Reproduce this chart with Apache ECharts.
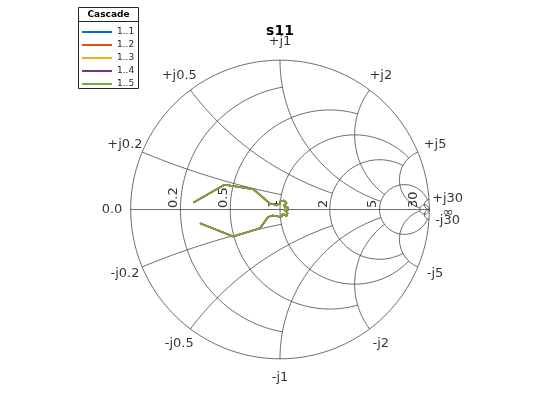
<!DOCTYPE html>
<html><head><meta charset="utf-8">
<script src="https://cdn.jsdelivr.net/npm/echarts@6/dist/echarts.min.js"></script>
<style>html,body{margin:0;padding:0;background:#fff}#c{width:560px;height:420px}</style>
</head><body><div id="c"></div>
<script>
// ---- data ----
const titleText = 's11';
const legendTitle = 'Cascade';
const seriesNames = ['1..1', '1..2', '1..3', '1..4', '1..5'];
const seriesColors = ['#0072BD', '#D95319', '#EDB120', '#7E2F8E', '#77AC30'];
// reflection coefficient S11 (real / imaginary); the five cascades coincide
const s11Re = [-0.581, -0.372, -0.179, -0.067, -0.027, 0.000, 0.000, 0.027, 0.044, 0.023, 0.050, 0.054, 0.027, 0.050, 0.044, 0.020, 0.007, 0.000, -0.047, -0.080, -0.134, -0.313, -0.536];
const s11Im = [0.046, 0.166, 0.137, 0.040, 0.030, 0.037, 0.054, 0.060, 0.044, 0.023, 0.017, -0.003, 0.000, -0.023, -0.044, -0.030, -0.050, -0.037, -0.040, -0.050, -0.126, -0.181, -0.092];
// Smith grid: circle values and where each one stops
const resistanceGrid = [30, 5, 2, 1, 0.5, 0.2];
const resistanceGridEnd = [Infinity, 30, 5, 5, 2, 1];
const reactanceGrid = [30, 5, 2, 1, 0.5, 0.2];
const reactanceGridEnd = [Infinity, 30, 5, 5, 2, 1];
const resistanceLabels = ['30', '5', '2', '1', '0.5', '0.2'];
const reactanceLabels = ['30', '5', '2', '1', '0.5', '0.2'];
const leftLabel = '0.0';
const rightLabel = '\u221E';

// ---- helpers ----
const FONT = 'DejaVu Sans';
const GRID_COLOR = '#454545';
const LABEL_R = 1.125;
function gamma(r, x) {
  if (!isFinite(r) || !isFinite(x)) return [1, 0];
  const d = (r + 1) * (r + 1) + x * x;
  return [(r * r - 1 + x * x) / d, 2 * x / d];
}
function arc(cx, cy, rad, a0, a1, n) {
  const pts = [];
  for (let i = 0; i <= n; i++) {
    const a = a0 + (a1 - a0) * i / n;
    pts.push([cx + rad * Math.cos(a), cy + rad * Math.sin(a)]);
  }
  return pts;
}
function mirror(pts) { return pts.map(p => [p[0], -p[1]]); }

const gridLines = [];
gridLines.push(arc(0, 0, 1, 0, 2 * Math.PI, 360));
gridLines.push([[-1, 0], [1, 0]]);
resistanceGrid.forEach((r, i) => {
  const c = r / (1 + r), rad = 1 / (1 + r);
  const e = gamma(r, resistanceGridEnd[i]);
  const a1 = isFinite(resistanceGridEnd[i]) ? Math.atan2(e[1], e[0] - c) : 0;
  const up = arc(c, 0, rad, Math.PI, a1, 180);
  gridLines.push(up, mirror(up));
});
reactanceGrid.forEach((x, i) => {
  const cy = 1 / x, rad = 1 / x;
  const s = gamma(0, x);
  let a0 = Math.atan2(s[1] - cy, s[0] - 1);
  if (a0 > 0) a0 -= 2 * Math.PI;
  let a1 = -Math.PI / 2;
  if (isFinite(reactanceGridEnd[i])) {
    const e = gamma(reactanceGridEnd[i], x);
    a1 = Math.atan2(e[1] - cy, e[0] - 1);
  }
  const up = arc(1, cy, rad, a0, a1, 180);
  gridLines.push(up, mirror(up));
});

const series = [];
gridLines.forEach(pts => series.push({
  type: 'line', data: pts, showSymbol: false, silent: true, clip: false,
  lineStyle: { color: GRID_COLOR, width: 0.8 }, z: 1, animation: false
}));

const outerLabels = [];
reactanceGrid.forEach((x, i) => {
  const g = gamma(0, x);
  outerLabels.push({ name: '+j' + reactanceLabels[i], value: [g[0] * LABEL_R, g[1] * LABEL_R] });
  outerLabels.push({ name: '-j' + reactanceLabels[i], value: [g[0] * LABEL_R, -g[1] * LABEL_R] });
});
outerLabels.push({ name: leftLabel, value: [-LABEL_R, 0] });
outerLabels.push({ name: rightLabel, value: [LABEL_R, 0], label: { offset: [0, 3], rotate: 0 } });
const hidden = { color: 'rgba(0,0,0,0)' };
series.push({
  type: 'scatter', data: outerLabels, symbolSize: 1, itemStyle: hidden, silent: true, clip: false,
  animation: false, z: 3,
  label: { show: true, position: 'inside', formatter: '{b}', color: '#000', fontFamily: FONT, fontSize: 13, align: 'center', verticalAlign: 'middle' }
});
const innerLabels = resistanceGrid.map((r, i) => {
  const g = gamma(r, 0);
  return { name: resistanceLabels[i], value: [g[0], 1.5 / 149.3] };
});
series.push({
  type: 'scatter', data: innerLabels, symbolSize: 1, itemStyle: hidden, silent: true, clip: false,
  animation: false, z: 3,
  label: { show: true, position: 'inside', formatter: '{b}', color: '#000', fontFamily: FONT, fontSize: 13, rotate: 90, align: 'left', verticalAlign: 'bottom' }
});
seriesNames.forEach((nm, k) => {
  series.push({
    type: 'line', name: nm, data: s11Re.map((v, i) => [v, s11Im[i]]),
    showSymbol: false, clip: false, animation: false, z: 5,
    lineStyle: { color: seriesColors[k], width: 1.7 }, itemStyle: { color: seriesColors[k] }
  });
});

const chart = echarts.init(document.getElementById('c'), null, { renderer: 'canvas' });
chart.setOption({
  backgroundColor: '#ffffff',
  animation: false,
  title: { text: titleText, left: 'center', top: 24, padding: 0, textStyle: { fontFamily: FONT, fontSize: 14, fontWeight: 'bold', color: '#000' } },
  grid: { left: 130.7, top: 60.2, width: 298.6, height: 298.6 },
  xAxis: { type: 'value', min: -1, max: 1, show: false },
  yAxis: { type: 'value', min: -1, max: 1, show: false },
  legend: {
    data: seriesNames, orient: 'vertical', left: 82, top: 26.5, padding: 0, itemGap: 2,
    itemWidth: 30, itemHeight: 2, icon: 'rect', selectedMode: false, z: 10,
    textStyle: { fontFamily: FONT, fontSize: 9, color: '#262626', lineHeight: 11 }
  },
  graphic: [
    { type: 'rect', z: 5, shape: { x: 78.5, y: 7.5, width: 60, height: 81 }, style: { fill: '#fff', stroke: '#262626', lineWidth: 1 } },
    { type: 'line', z: 6, shape: { x1: 78.5, y1: 21.5, x2: 138.5, y2: 21.5 }, style: { stroke: '#262626', lineWidth: 1 } },
    { type: 'text', z: 6, x: 108.5, y: 14.5, style: { text: legendTitle, fontFamily: FONT, fontSize: 9, fontWeight: 'bold', fill: '#000', textAlign: 'center', textVerticalAlign: 'middle' } }
  ],
  series: series
});
</script></body></html>
